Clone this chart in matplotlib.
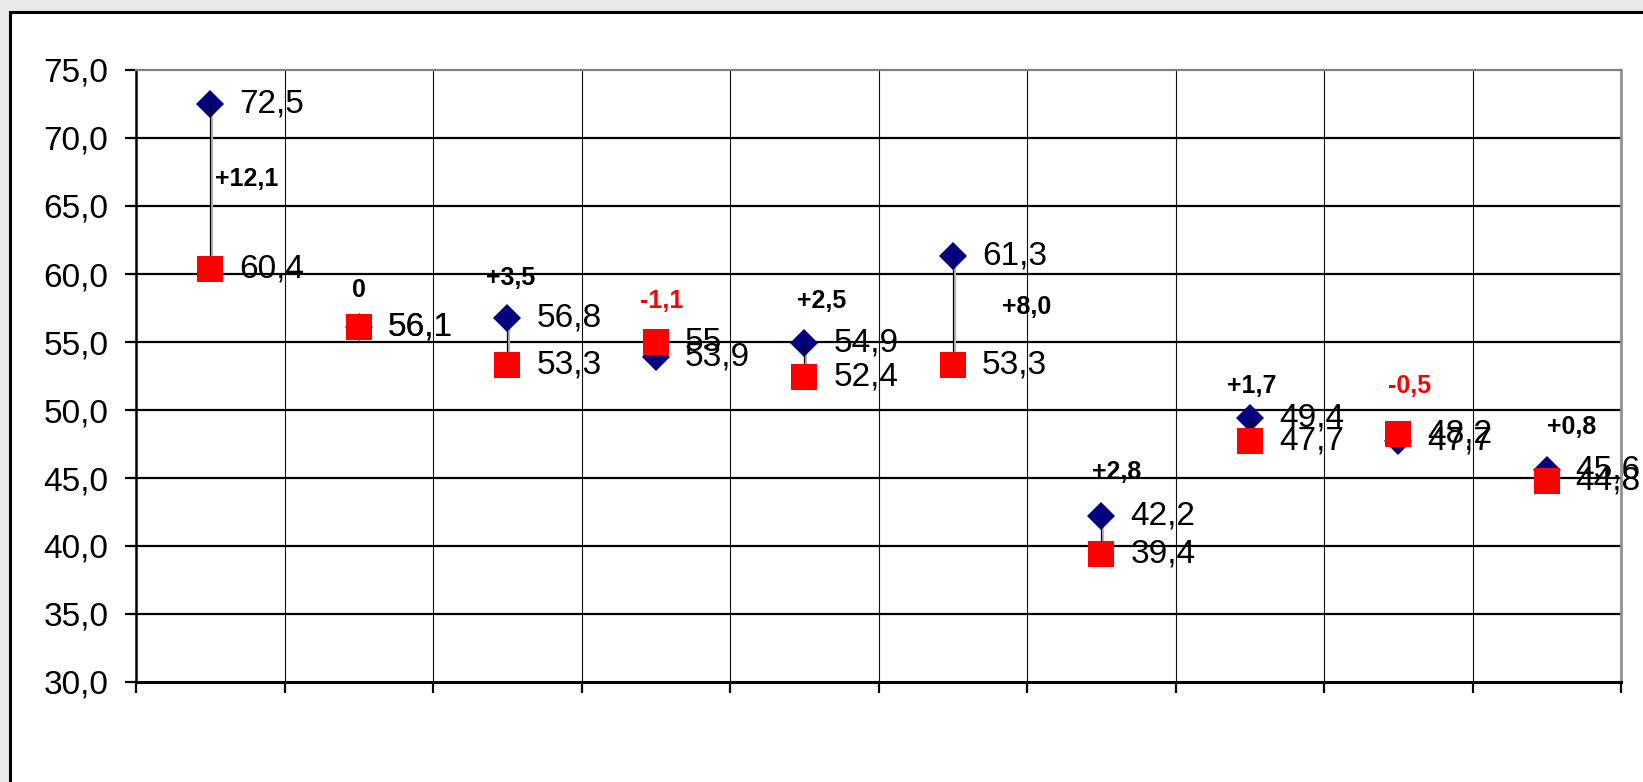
import matplotlib.pyplot as plt
from matplotlib.patches import Rectangle
from matplotlib.transforms import offset_copy

plt.rcParams['font.family'] = ['Liberation Sans', 'DejaVu Sans']

# values
categories = list(range(1, 11))
blue_vals = [72.5, 56.1, 56.8, 53.9, 54.9, 61.3, 42.2, 49.4, 47.7, 45.6]
red_vals = [60.4, 56.1, 53.3, 55.0, 52.4, 53.3, 39.4, 47.7, 48.2, 44.8]
y_ticks = [30, 35, 40, 45, 50, 55, 60, 65, 70, 75]

# where the difference labels sit (pixel offsets from the midpoint of each pair)
diff_dx = [36, 0, 3, 6, 17, 74, 15, 2, 11, 25]
diff_dy = [7, 37, 63, 48, 59, 4, 63, 44, 52, 48]


def fmt(v):
    if abs(v - round(v)) < 1e-9:
        return str(int(round(v)))
    return ('%.1f' % v).replace('.', ',')


fig = plt.figure(figsize=(16.43, 7.82), dpi=100, facecolor='#e9e9e9')

# white chart area with black border (clipped at right/bottom like the screenshot)
top = 1 - 12 / 782
fig.patches.append(Rectangle((10 / 1643, -0.2), 1.2, top + 0.2,
                             transform=fig.transFigure, facecolor='white',
                             edgecolor='black', linewidth=2.2, zorder=-10))

ax = fig.add_axes([136 / 1643, 1 - 682 / 782, (1621 - 136) / 1643, (682 - 70) / 782])
ax.set_zorder(1)
ax.set_facecolor('white')

x = [c - 0.5 for c in categories]

# connector lines: grey shadow + thin black line
shadow = offset_copy(ax.transData, fig=fig, x=2, y=0, units='dots')
ax.vlines(x, blue_vals, red_vals, colors='#b5b5b5', linewidth=1.6,
          transform=shadow, zorder=3)
ax.vlines(x, blue_vals, red_vals, colors='black', linewidth=0.9, zorder=4)

ax.plot(x, blue_vals, linestyle='none', marker='D', markersize=14.5,
        color='#000080', markeredgewidth=0, zorder=3)
ax.plot(x, red_vals, linestyle='none', marker='s', markersize=19,
        color='#ff0000', markeredgewidth=0, zorder=5)

for xi, b, r in zip(x, blue_vals, red_vals):
    ax.annotate(fmt(b), (xi, b), xytext=(29, 0), textcoords='offset pixels',
                ha='left', va='center', fontsize=24, zorder=6)
    ax.annotate(fmt(r), (xi, r), xytext=(29, 0), textcoords='offset pixels',
                ha='left', va='center', fontsize=24, zorder=6)

for xi, b, r, dx, dy in zip(x, blue_vals, red_vals, diff_dx, diff_dy):
    d = round(b - r, 1)
    if d > 0:
        txt, col = '+' + ('%.1f' % d).replace('.', ','), 'black'
    elif d < 0:
        txt, col = ('%.1f' % d).replace('.', ','), '#ff0000'
    else:
        txt, col = '0', 'black'
    ax.annotate(txt, (xi, (b + r) / 2), xytext=(dx, dy), textcoords='offset pixels',
                ha='center', va='center', fontsize=18, fontweight='bold',
                color=col, zorder=6)

ax.set_xlim(0, 10)
ax.set_ylim(30, 75)
ax.set_yticks(y_ticks)
ax.set_yticklabels([('%.1f' % t).replace('.', ',') for t in y_ticks], fontsize=24)
ax.set_xticks(range(0, 11))
ax.set_xticklabels([])

ax.tick_params(axis='y', direction='out', length=8, width=1.6, pad=12)
ax.tick_params(axis='x', direction='out', length=8, width=1.6)

for yv in y_ticks[1:-1]:
    ax.axhline(yv, color='black', linewidth=1.6, zorder=1)
for xv in range(1, 10):
    ax.axvline(xv, color='#111111', linewidth=0.8, zorder=1)

ax.spines['left'].set_linewidth(1.8)
ax.spines['bottom'].set_linewidth(2.2)
ax.spines['top'].set_color('#808080')
ax.spines['top'].set_linewidth(1.6)
ax.spines['right'].set_color('#909090')
ax.spines['right'].set_linewidth(2)

fig.savefig('out.png', dpi=100, facecolor=fig.get_facecolor())
